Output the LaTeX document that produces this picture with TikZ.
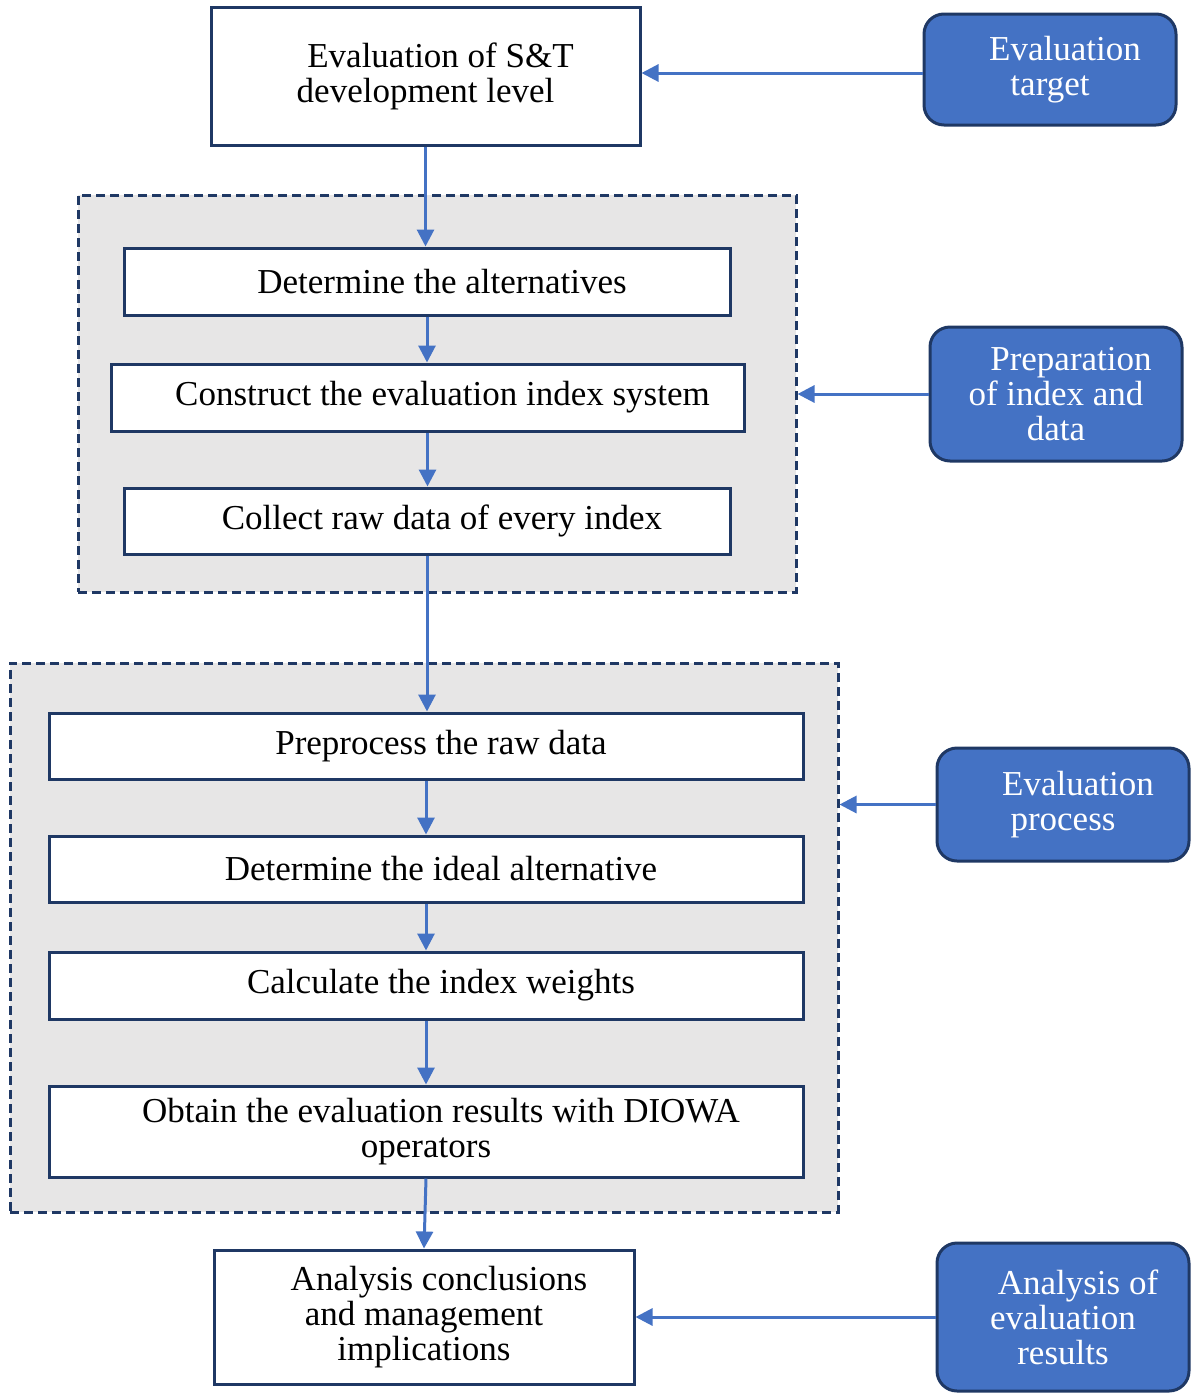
\documentclass[tikz,border=0pt]{standalone}
\usepackage{fontspec}
\setmainfont{Liberation Serif}
\usetikzlibrary{arrows.meta}
\definecolor{navy}{HTML}{1F3864}
\definecolor{bluefill}{HTML}{4472C4}
\definecolor{arrowblue}{HTML}{4472C4}
\definecolor{grayfill}{HTML}{E7E6E6}
\newcommand{\ind}{\hspace*{15pt}}
\tikzset{
  box/.style={draw=navy, line width=1.5pt, fill=white, align=center, inner sep=0pt,
    font=\fontsize{17.5}{17.5}\selectfont},
  bluebox/.style={draw=navy, line width=1.5pt, fill=bluefill, rounded corners=10pt,
    align=center, inner sep=0pt, text=white, font=\fontsize{17.5}{17.5}\selectfont},
  group/.style={draw=navy, line width=1.5pt, fill=grayfill, dash pattern=on 4.5pt off 2.5pt, inner sep=0pt},
  conn/.style={draw=arrowblue, line width=1.5pt, -{Triangle[length=8.5pt,width=8.5pt]}}
}
\begin{document}
\begin{tikzpicture}[x=0.5pt,y=-0.5pt]
\useasboundingbox (0,0) rectangle (1192,1393);
% groups
\node[group, minimum width=359pt, minimum height=198.5pt] (grp1) at (437,393.5) {};
\node[group, minimum width=414pt, minimum height=274.5pt] (grp2) at (424,937.5) {};
% main boxes
\node[box, minimum width=214.5pt, minimum height=69pt] (top) at (425.5,76) {\ind Evaluation of S\&T\\development level};
\node[box, minimum width=303pt, minimum height=33.5pt] (alt) at (427,281.5) {\ind Determine the alternatives};
\node[box, minimum width=316.5pt, minimum height=33.5pt] (cons) at (427.5,397.5) {\ind Construct the evaluation index system};
\node[box, minimum width=303pt, minimum height=33pt] (coll) at (427,521) {\ind Collect raw data of every index};
\node[box, minimum width=377pt, minimum height=33pt] (pre) at (426,746) {\ind Preprocess the raw data};
\node[box, minimum width=377pt, minimum height=33pt] (ideal) at (426,869) {\ind Determine the ideal alternative};
\node[box, minimum width=377pt, minimum height=33.5pt] (wts) at (426,985.5) {\ind Calculate the index weights};
\node[box, minimum width=377pt, minimum height=45.5pt] (obt) at (426,1131.5) {\ind Obtain the evaluation results with DIOWA\\operators};
\node[box, minimum width=210pt, minimum height=67pt] (ana) at (424,1317) {\ind Analysis conclusions\\and management\\implications};
% blue boxes
\node[bluebox, minimum width=126pt, minimum height=55.5pt] (target) at (1050,69.5) {\ind Evaluation\\target};
\node[bluebox, minimum width=126pt, minimum height=67pt] (prep) at (1056,394) {\ind Preparation\\of index and\\data};
\node[bluebox, minimum width=126pt, minimum height=56.5pt] (proc) at (1063,804.5) {\ind Evaluation\\process};
\node[bluebox, minimum width=126pt, minimum height=74pt] (res) at (1063,1317) {\ind Analysis of\\evaluation\\results};
% vertical flow
\draw[conn] (top.south) -- (top.south |- alt.north);
\draw[conn] (alt.south) -- (alt.south |- cons.north);
\draw[conn] (cons.south) -- (cons.south |- coll.north);
\draw[conn] (coll.south) -- (coll.south |- pre.north);
\draw[conn] (pre.south) -- (ideal.north);
\draw[conn] (ideal.south) -- (wts.north);
\draw[conn] (wts.south) -- (obt.north);
\draw[conn] (obt.south) -- (ana.north);
% side arrows
\draw[conn] ([yshift=-1.75pt]target.west) -- ([yshift=-1.75pt]target.west -| top.east);
\draw[conn] (prep.west) -- (prep.west -| grp1.east);
\draw[conn] (proc.west) -- (proc.west -| grp2.east);
\draw[conn] (res.west) -- (res.west -| ana.east);
\end{tikzpicture}
\end{document}
